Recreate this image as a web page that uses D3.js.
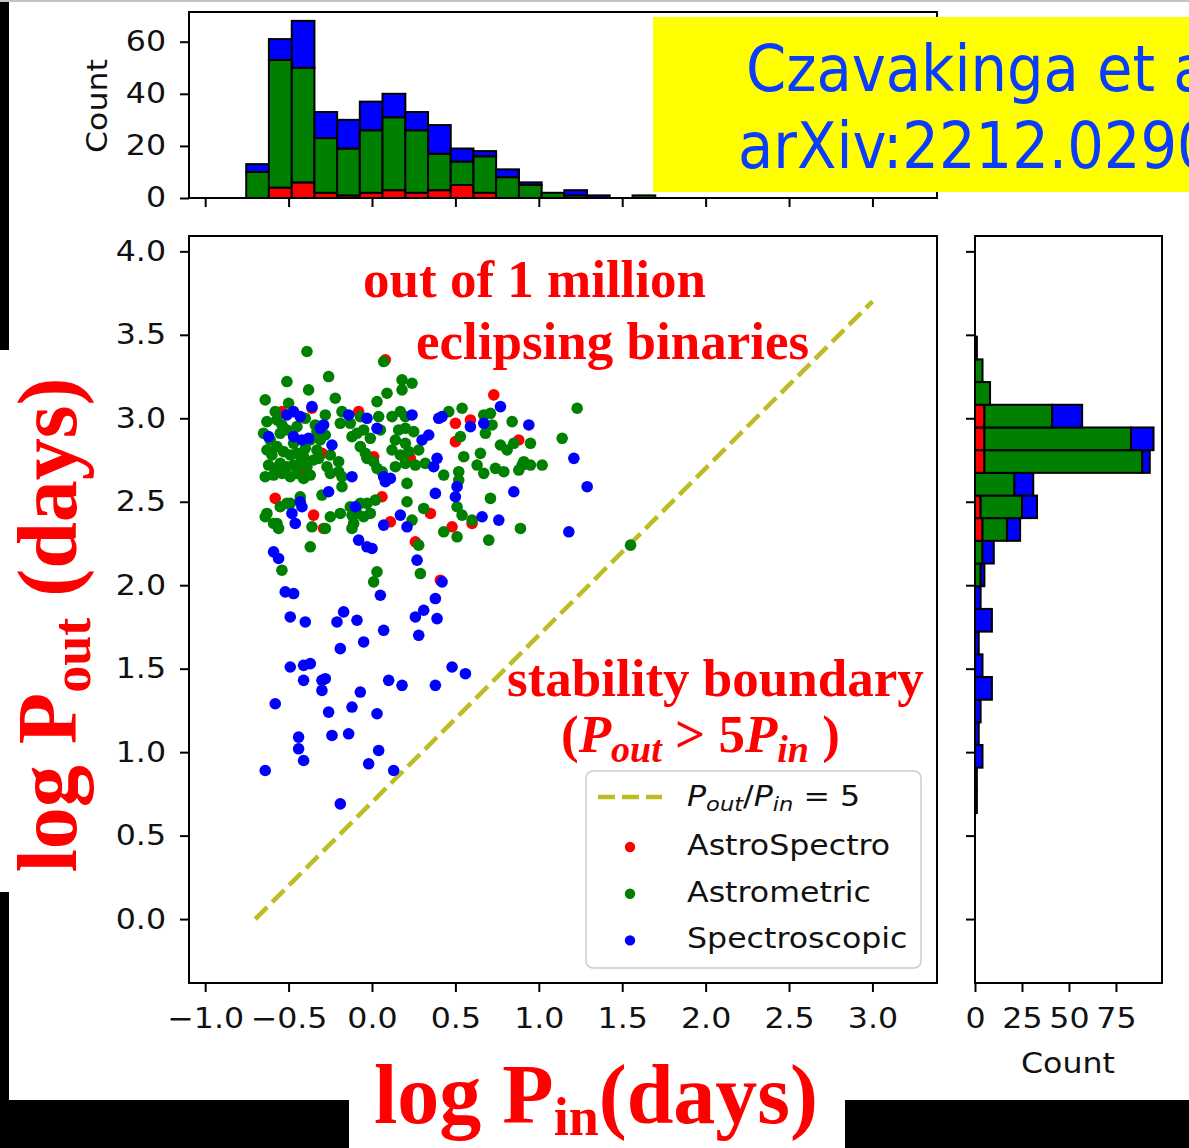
<!DOCTYPE html>
<html>
<head>
<meta charset="utf-8">
<script src="https://cdn.jsdelivr.net/npm/d3@7"></script>
<style>
  body { margin: 0; background: #fff; }
  svg { display: block; }
</style>
</head>
<body>
<svg id="chart" width="1189" height="1148"></svg>
<script>
// ---------------- data ----------------
// log P_in / log P_out (days) for each class of inner-binary detection
const astroSpectro = [
  [0.08,3.35],[0.73,3.14],[0.50,2.97],[0.59,2.99],[0.50,2.86],[0.88,2.87],[-0.30,2.79],[0.01,2.77],
  [0.23,2.76],[-0.42,2.66],[-0.58,2.52],[-0.35,2.42],[-0.29,2.34],[0.06,2.53],[0.11,2.38],[0.35,2.43],
  [0.48,2.35],[0.60,2.37],[0.26,2.26],[-0.54,3.04],[-0.36,3.06],[-0.08,3.04],[0.41,2.03]
];
const astrometric = [
  [-0.39,3.40],[0.07,3.34],[-0.51,3.22],[-0.26,3.25],[0.18,3.23],[0.24,3.21],[-0.38,3.17],[-0.22,3.12],
  [0.09,3.15],[0.18,3.17],[-0.64,3.11],[-0.50,3.09],[0.03,3.10],[1.23,3.06],[0.54,3.06],[0.46,3.04],
  [-0.58,3.04],[0.67,3.02],[0.71,3.03],[0.84,2.98],[0.72,2.96],[0.53,2.89],[0.68,2.91],[1.14,2.88],
  [0.95,2.85],[0.77,2.84],[0.81,2.81],[0.85,2.85],[0.55,2.77],[0.65,2.79],[0.63,2.72],[0.67,2.67],
  [0.74,2.70],[0.79,2.68],[0.90,2.72],[0.95,2.72],[1.02,2.72],[0.43,2.66],[0.52,2.68],[0.52,2.63],
  [0.21,2.61],[0.71,2.52],[-0.18,2.59],[-0.55,2.47],[-0.51,2.49],[-0.63,2.43],[-0.64,2.41],[-0.57,2.37],
  [-0.56,2.34],[-0.36,2.35],[-0.19,2.43],[-0.07,2.49],[-0.03,2.49],[0.02,2.51],[-0.12,2.42],[-0.11,2.37],
  [0.24,2.39],[0.31,2.46],[0.43,2.32],[0.51,2.29],[0.60,2.39],[0.89,2.34],[0.70,2.27],[-0.37,2.23],
  [0.28,2.24],[-0.54,2.09],[0.03,2.08],[0.01,2.02],[0.29,2.07],[1.55,2.24],[0.21,2.50],[0.54,2.42],
  [-0.28,3.02],[-0.18,3.04],[-0.07,3.01],[-0.63,2.98],[-0.57,2.99],[-0.54,2.96],[-0.65,2.91],[-0.61,2.87],
  [-0.55,2.91],[-0.51,2.93],[-0.33,2.92],[-0.31,2.87],[-0.28,2.90],[-0.37,2.87],[-0.19,2.97],[-0.12,2.89],
  [-0.09,2.91],[-0.05,2.93],[-0.13,2.97],[-0.01,2.88],[0.04,3.01],[0.05,2.93],[-0.63,2.81],[-0.57,2.83],
  [-0.53,2.80],[-0.49,2.78],[-0.45,2.79],[-0.41,2.77],[-0.33,2.81],[-0.25,2.78],[-0.62,2.72],[-0.58,2.70],
  [-0.55,2.73],[-0.51,2.71],[-0.47,2.72],[-0.43,2.73],[-0.39,2.71],[-0.64,2.65],[-0.59,2.66],[-0.54,2.67],
  [-0.49,2.65],[-0.45,2.67],[-0.41,2.64],[-0.37,2.66],[-0.32,2.76],[-0.27,2.71],[-0.25,2.67],[-0.20,2.68],
  [-0.18,2.65],[-0.20,2.74],[-0.07,2.83],[-0.04,2.79],[-0.03,2.76],[0.01,2.74],[0.03,2.70],[0.06,2.68],
  [-0.30,2.54],[-0.43,2.53],[-0.59,2.37],[-0.49,2.49],[-0.25,2.41],[-0.28,2.34],[-0.13,2.47],[-0.09,2.43],
  [-0.05,2.41],[-0.12,2.34],[-0.01,2.43],[0.12,3.01],[0.17,3.04],[0.20,3.01],[0.16,2.93],[0.20,2.94],
  [0.25,2.92],[0.14,2.87],[0.20,2.85],[0.12,2.81],[0.17,2.78],[0.22,2.80],[0.28,2.81],[0.14,2.71],
  [0.20,2.73],[0.26,2.72],[0.32,2.73],[0.51,2.47],[0.91,2.74],[0.88,2.69],[-0.60,2.78],[-0.47,2.85],
  [-0.40,2.82],[-0.35,2.75],[-0.45,2.95],[-0.40,3.00],[-0.34,2.96]
];
const spectroscopic = [
  [0.77,3.07],[-0.36,3.07],[0.40,3.00],[0.42,3.01],[0.24,3.02],[-0.03,3.00],[-0.14,3.02],[-0.51,3.02],
  [-0.47,3.04],[-0.43,3.01],[0.94,2.96],[0.59,2.95],[0.67,2.97],[-0.29,2.96],[-0.31,2.94],[0.03,2.94],
  [-0.62,2.89],[-0.47,2.89],[-0.42,2.87],[-0.38,2.88],[-0.24,2.84],[0.30,2.87],[0.34,2.90],[0.39,2.76],
  [0.37,2.71],[1.21,2.76],[-0.12,2.65],[0.07,2.65],[0.11,2.64],[0.08,2.62],[0.51,2.59],[0.50,2.53],
  [1.29,2.59],[0.85,2.56],[0.38,2.55],[-0.26,2.56],[-0.43,2.50],[-0.42,2.47],[-0.48,2.43],[-0.46,2.37],
  [-0.10,2.47],[0.07,2.36],[0.17,2.42],[0.21,2.35],[0.66,2.41],[0.76,2.39],[1.18,2.32],[-0.08,2.27],
  [-0.03,2.23],[0.00,2.22],[-0.59,2.20],[-0.56,2.16],[0.27,2.15],[0.42,2.02],[-0.52,1.96],[-0.47,1.95],
  [0.05,1.94],[0.38,1.92],[0.31,1.85],[0.26,1.81],[0.39,1.80],[-0.49,1.81],[-0.40,1.78],[-0.17,1.84],
  [-0.21,1.78],[-0.09,1.79],[0.07,1.73],[-0.05,1.66],[0.28,1.70],[-0.19,1.62],[-0.49,1.51],[-0.41,1.52],
  [-0.37,1.53],[-0.41,1.43],[-0.30,1.43],[-0.28,1.44],[-0.30,1.37],[0.10,1.43],[0.18,1.40],[0.38,1.40],
  [0.48,1.51],[0.56,1.47],[-0.07,1.36],[-0.58,1.29],[-0.26,1.24],[-0.12,1.27],[0.03,1.23],[-0.44,1.09],
  [-0.24,1.10],[-0.14,1.11],[-0.44,1.02],[0.04,1.01],[-0.41,0.95],[-0.02,0.93],[0.13,0.89],[-0.64,0.89],
  [-0.19,0.69]
];

const seriesNames  = ["AstroSpectro", "Astrometric", "Spectroscopic"];
const seriesColors = ["#ff0000", "#008000", "#0000ff"];

// marginal histogram of log P_in (stacked: AstroSpectro, Astrometric, Spectroscopic)
const pinBinEdges = [-0.890,-0.754,-0.618,-0.481,-0.345,-0.209,-0.073,0.063,0.200,0.336,0.472,
                     0.608,0.744,0.881,1.017,1.153,1.289,1.425,1.562,1.698,1.834];
const pinCountsRed   = [0,0,4,6,2,1,2,3,2,3,5,2,0,0,0,0,0,0,0,0];
const pinCountsGreen = [0,10,49,44,21,18,24,28,24,14,9,14,8,5,2,1,0,0,1,0];
const pinCountsBlue  = [0,3,8,18,10,11,11,9,7,11,5,2,3,1,0,2,1,0,0,0];

// marginal histogram of log P_out
const poutBinEdges = [0.635,0.771,0.907,1.043,1.178,1.314,1.450,1.586,1.722,1.858,1.994,2.130,
                      2.266,2.402,2.537,2.673,2.809,2.945,3.081,3.217,3.353,3.489];
const poutCountsRed   = [0,0,0,0,0,0,0,0,0,0,0,0,4,3,0,5,5,5,0,0,0];
const poutCountsGreen = [0,0,0,0,0,0,0,0,0,0,3,4,13,22,21,84,78,36,8,4,1];
const poutCountsBlue  = [1,1,4,2,3,9,4,2,9,3,2,6,7,8,10,4,12,16,0,0,0];

// stability boundary  log P_out = log P_in + log 5
const boundaryX = [-0.7, 3.0];
const boundaryY = [0.0, 3.7];

const xTicks      = [-1.0,-0.5,0.0,0.5,1.0,1.5,2.0,2.5,3.0];
const yTicks      = [0.0,0.5,1.0,1.5,2.0,2.5,3.0,3.5,4.0];
const countTicksTop   = [0,20,40,60];
const countTicksRight = [0,25,50,75];

// ---------------- drawing ----------------
const svg = d3.select("#chart");
const W = 1189, H = 1148;
const tickFont = "'DejaVu Sans', sans-serif";
const tickSize = 28;
const widen = 1.13;            // figure text is rendered slightly wide
const serif = "'Liberation Serif', 'Times New Roman', serif";

svg.append("rect").attr("width", W).attr("height", H).attr("fill", "#fff");
// dark slide frame
svg.append("rect").attr("x", 0).attr("y", 0).attr("width", 9).attr("height", 1100).attr("fill", "#000");
svg.append("rect").attr("x", 0).attr("y", 1100).attr("width", W).attr("height", 48).attr("fill", "#000");
svg.append("line").attr("x1", 0).attr("x2", W).attr("y1", 1).attr("y2", 1)
  .attr("stroke", "#c4c4c4").attr("stroke-width", 2);

// panels
const mainBox  = { l: 189, r: 937, t: 236, b: 983 };
const topBox   = { l: 189, r: 937, t: 12,  b: 198 };
const rightBox = { l: 975, r: 1162, t: 236, b: 983 };

const x = d3.scaleLinear().domain([-1.097, 3.387]).range([mainBox.l, mainBox.r]);
const y = d3.scaleLinear().domain([-0.383, 4.092]).range([mainBox.b, mainBox.t]);
const yTop = d3.scaleLinear().domain([0, 71.4]).range([topBox.b, topBox.t]);
const xRight = d3.scaleLinear().domain([0, 99.5]).range([rightBox.l, rightBox.r]);

function tickText(sel) {
  return sel.attr("font-family", tickFont).attr("font-size", tickSize).attr("fill", "#111");
}
// plain text placed at (px, py), widened horizontally about its anchor
function wideText(parent, px, py, extra) {
  return tickText(parent.append("text")
    .attr("transform", `translate(${px},${py}) ${extra || ""} scale(${widen},1)`));
}
function styleAxis(g, vertical) {
  g.select(".domain").remove();
  g.selectAll(".tick line").attr("stroke", "#000").attr("stroke-width", 2);
  const t = tickText(g.selectAll(".tick text")).attr("transform", `scale(${widen},1)`);
  if (vertical) t.attr("x", function () { return +this.getAttribute("x") / widen; });
}

// stacked bin layout from the three count arrays
function stackBins(edges, reds, greens, blues) {
  const out = [];
  for (let i = 0; i < edges.length - 1; i++) {
    let base = 0;
    [reds[i], greens[i], blues[i]].forEach((c, k) => {
      out.push({ e0: edges[i], e1: edges[i + 1], c0: base, c1: base + c, color: seriesColors[k], n: c });
      base += c;
    });
  }
  return out;
}

// ---- top histogram (log P_in) ----
const topG = svg.append("g");
const topBins = stackBins(pinBinEdges, pinCountsRed, pinCountsGreen, pinCountsBlue);
topG.selectAll("rect.bar").data(topBins).join("rect")
  .attr("class", "bar")
  .attr("x", d => x(d.e0))
  .attr("width", d => x(d.e1) - x(d.e0))
  .attr("y", d => yTop(d.c1))
  .attr("height", d => yTop(d.c0) - yTop(d.c1))
  .attr("fill", d => d.color)
  .attr("stroke", "#000").attr("stroke-width", 2);
topG.append("rect").attr("x", topBox.l).attr("y", topBox.t)
  .attr("width", topBox.r - topBox.l).attr("height", topBox.b - topBox.t)
  .attr("fill", "none").attr("stroke", "#000").attr("stroke-width", 2);
const topYAxis = topG.append("g").attr("transform", `translate(${topBox.l},0)`)
  .call(d3.axisLeft(yTop).tickValues(countTicksTop).tickSize(9).tickPadding(14).tickFormat(d3.format("d")));
styleAxis(topYAxis, true);
const topXAxis = topG.append("g").attr("transform", `translate(0,${topBox.b})`)
  .call(d3.axisBottom(x).tickValues(xTicks).tickSize(9).tickFormat(""));
styleAxis(topXAxis);
wideText(topG, 107, 106, "rotate(-90)").attr("text-anchor", "middle").text("Count");

// ---- right histogram (log P_out) ----
const rightG = svg.append("g");
const rightBins = stackBins(poutBinEdges, poutCountsRed, poutCountsGreen, poutCountsBlue);
rightG.selectAll("rect.bar").data(rightBins).join("rect")
  .attr("class", "bar")
  .attr("y", d => y(d.e1))
  .attr("height", d => y(d.e0) - y(d.e1))
  .attr("x", d => xRight(d.c0))
  .attr("width", d => xRight(d.c1) - xRight(d.c0))
  .attr("fill", d => d.color)
  .attr("stroke", "#000").attr("stroke-width", 2);
rightG.append("rect").attr("x", rightBox.l).attr("y", rightBox.t)
  .attr("width", rightBox.r - rightBox.l).attr("height", rightBox.b - rightBox.t)
  .attr("fill", "none").attr("stroke", "#000").attr("stroke-width", 2);
const rightYAxis = rightG.append("g").attr("transform", `translate(${rightBox.l},0)`)
  .call(d3.axisLeft(y).tickValues(yTicks).tickSize(9).tickFormat(""));
styleAxis(rightYAxis, true);
const rightXAxis = rightG.append("g").attr("transform", `translate(0,${rightBox.b})`)
  .call(d3.axisBottom(xRight).tickValues(countTicksRight).tickSize(9).tickPadding(16).tickFormat(d3.format("d")));
styleAxis(rightXAxis);
wideText(rightG, 1068, 1073).attr("text-anchor", "middle").text("Count");

// ---- main scatter ----
const mainG = svg.append("g");
mainG.append("line")
  .attr("x1", x(boundaryX[0])).attr("y1", y(boundaryY[0]))
  .attr("x2", x(boundaryX[1])).attr("y2", y(boundaryY[1]))
  .attr("stroke", "#bcbd22").attr("stroke-width", 4.5)
  .attr("stroke-dasharray", "17,7");

[astroSpectro, astrometric, spectroscopic].forEach((pts, k) => {
  mainG.append("g").selectAll("circle").data(pts).join("circle")
    .attr("cx", d => x(d[0])).attr("cy", d => y(d[1]))
    .attr("r", 5.8)
    .attr("fill", seriesColors[k]);
});

mainG.append("rect").attr("x", mainBox.l).attr("y", mainBox.t)
  .attr("width", mainBox.r - mainBox.l).attr("height", mainBox.b - mainBox.t)
  .attr("fill", "none").attr("stroke", "#000").attr("stroke-width", 2);
const mainXAxis = mainG.append("g").attr("transform", `translate(0,${mainBox.b})`)
  .call(d3.axisBottom(x).tickValues(xTicks).tickSize(9).tickPadding(16).tickFormat(d3.format(".1f")));
styleAxis(mainXAxis);
const mainYAxis = mainG.append("g").attr("transform", `translate(${mainBox.l},0)`)
  .call(d3.axisLeft(y).tickValues(yTicks).tickSize(9).tickPadding(14).tickFormat(d3.format(".1f")));
styleAxis(mainYAxis, true);

// ---- legend ----
const leg = mainG.append("g");
leg.append("rect").attr("x", 586).attr("y", 771).attr("width", 335).attr("height", 197)
  .attr("rx", 7).attr("fill", "#fff").attr("fill-opacity", 0.85)
  .attr("stroke", "#cccccc").attr("stroke-width", 1.5);
leg.append("line").attr("x1", 598).attr("x2", 662).attr("y1", 797).attr("y2", 797)
  .attr("stroke", "#bcbd22").attr("stroke-width", 4.5).attr("stroke-dasharray", "17,7");
const lt = wideText(leg, 687, 806);
lt.append("tspan").attr("font-style", "italic").text("P");
lt.append("tspan").attr("font-style", "italic").attr("font-size", 20).attr("dy", 5).text("out");
lt.append("tspan").attr("dy", -5).text("/");
lt.append("tspan").attr("font-style", "italic").text("P");
lt.append("tspan").attr("font-style", "italic").attr("font-size", 20).attr("dy", 5).text("in");
lt.append("tspan").attr("dy", -5).text(" = 5");
seriesNames.forEach((name, i) => {
  leg.append("circle")
    .attr("cx", 630).attr("cy", 847 + i * 46.7)
    .attr("r", 5.2).attr("fill", seriesColors[i]);
  wideText(leg, 687, 855 + i * 46.7).text(name);
});

// ---- annotations ----
function redText(xp, yp, size, txt) {
  return svg.append("text").attr("x", xp).attr("y", yp)
    .attr("font-family", serif).attr("font-weight", "bold").attr("font-size", size)
    .attr("fill", "#ff0000").text(txt);
}
redText(363, 297, 53, "out of 1 million");
redText(416, 359, 53, "eclipsing binaries");
redText(507, 696, 53, "stability boundary");
const cond = svg.append("text").attr("x", 561).attr("y", 752)
  .attr("font-family", serif).attr("font-weight", "bold").attr("font-size", 53).attr("fill", "#ff0000");
cond.append("tspan").text("(");
cond.append("tspan").attr("font-style", "italic").text("P");
cond.append("tspan").attr("font-style", "italic").attr("font-size", 38).attr("dy", 10).text("out");
cond.append("tspan").attr("dy", -10).text(" > 5");
cond.append("tspan").attr("font-style", "italic").text("P");
cond.append("tspan").attr("font-style", "italic").attr("font-size", 38).attr("dy", 10).text("in");
cond.append("tspan").attr("dy", -10).text(" )");

// axis titles on white plates
svg.append("rect").attr("x", 0).attr("y", 350).attr("width", 96).attr("height", 542).attr("fill", "#fff");
const ylab = svg.append("text")
  .attr("transform", "translate(76,625) rotate(-90)")
  .attr("text-anchor", "middle")
  .attr("font-family", serif).attr("font-weight", "bold").attr("font-size", 84).attr("fill", "#ff0000");
ylab.append("tspan").text("log P");
ylab.append("tspan").attr("font-size", 54).attr("dy", 14).text("out");
ylab.append("tspan").attr("dy", -14).text(" (days)");

svg.append("rect").attr("x", 349).attr("y", 1085).attr("width", 496).attr("height", 63).attr("fill", "#fff");
const xlab = svg.append("text")
  .attr("x", 596).attr("y", 1123)
  .attr("text-anchor", "middle")
  .attr("font-family", serif).attr("font-weight", "bold").attr("font-size", 84).attr("fill", "#ff0000");
xlab.append("tspan").text("log P");
xlab.append("tspan").attr("font-size", 54).attr("dy", 12).text("in");
xlab.append("tspan").attr("dy", -12).text("(days)");

// citation plate
svg.append("rect").attr("x", 653).attr("y", 17).attr("width", W - 653).attr("height", 175).attr("fill", "#ffff00");
svg.append("text").attr("x", 746).attr("y", 91)
  .attr("font-family", "'DejaVu Sans Condensed', 'DejaVu Sans', sans-serif")
  .attr("font-stretch", "condensed")
  .attr("font-size", 64).attr("fill", "#0a3cff").text("Czavakinga et al.");
svg.append("text").attr("x", 738).attr("y", 168)
  .attr("font-family", "'DejaVu Sans Condensed', 'DejaVu Sans', sans-serif")
  .attr("font-stretch", "condensed")
  .attr("font-size", 64).attr("fill", "#0a3cff").text("arXiv:2212.0290");
</script>
</body>
</html>
